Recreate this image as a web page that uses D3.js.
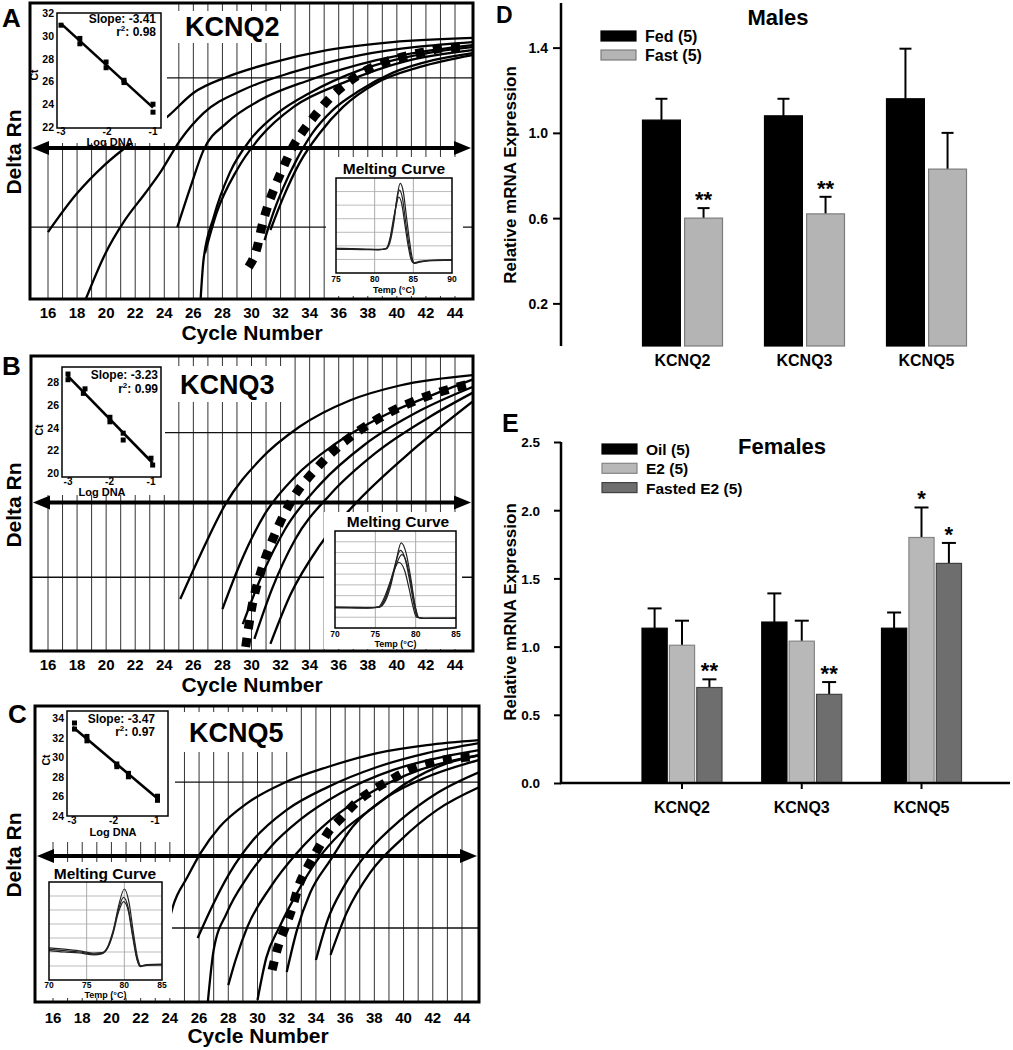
<!DOCTYPE html>
<html><head><meta charset="utf-8">
<script src="https://cdn.jsdelivr.net/npm/d3@7/dist/d3.min.js"></script>
<style>
html,body{margin:0;padding:0;background:#fff;}
text{font-family:"Liberation Sans",Arial,Helvetica,sans-serif;font-weight:bold;fill:#000;}
</style></head><body>
<svg id="fig" width="1013" height="1050" xmlns="http://www.w3.org/2000/svg"></svg>
<script>
// ================= DATA =================
const cycleTickLabels = [16,18,20,22,24,26,28,30,32,34,36,38,40,42,44];
const genes = ["KCNQ2","KCNQ3","KCNQ5"];

// ---- Panel A (KCNQ2) amplification curves: [cycle, deltaRn (arb.)]
const kcnq2Curves = [
 [[16.0,2.26],[17.9,3.51],[19.9,4.53],[22.0,5.37],[24.2,6.15],[26.0,6.96],[28.3,7.5],[31.3,7.97],[35.2,8.41],[39.7,8.68],[45.2,8.82]],
 [[18.6,0.0],[19.9,1.49],[21.3,2.67],[22.7,3.58],[23.7,4.26],[25.1,5.37],[26.7,6.28],[29.4,7.06],[32.9,7.67],[37.5,8.24],[45.2,8.68]],
 [[24.9,2.43],[25.8,3.78],[26.7,5.03],[28.3,5.95],[30.6,6.72],[34.0,7.4],[38.6,8.07],[45.2,8.58]],
 [[26.5,0.0],[26.7,1.32],[27.4,2.77],[28.5,4.26],[29.9,5.37],[31.8,6.28],[34.0,6.96],[37.5,7.74],[42.1,8.31],[45.2,8.51]],
 [[26.8,1.55],[27.6,2.91],[29.0,4.36],[30.6,5.47],[32.9,6.49],[36.3,7.3],[40.9,8.07],[45.2,8.41]],
 [[30.9,1.99],[31.5,2.91],[32.2,3.78],[33.1,4.7],[34.2,5.61],[35.6,6.39],[37.5,7.06],[39.7,7.64],[42.5,8.07],[45.2,8.31]],
 [[31.3,2.33],[32.2,3.45],[33.3,4.59],[34.7,5.61],[36.3,6.49],[38.6,7.3],[41.6,7.84],[45.2,8.24]]
];
const kcnq2Dotted = [[29.8,1.08],[30.4,1.76],[30.7,2.43],[31.1,3.11],[31.6,3.78],[32.2,4.46],[32.8,5.1],[33.5,5.64],[34.4,6.22],[35.4,6.79],[36.4,7.23],[37.6,7.64],[39.0,7.97],[40.4,8.18],[41.8,8.34],[43.2,8.48],[44.5,8.51]];
const kcnq2Thresholds = [7.47, 2.43];
const kcnq2Arrow = 5.1;
const kcnq2StdPoints = [[-3,30.93],[-2.59,29.77],[-2.59,29.3],[-2.02,27.7],[-2.02,27.2],[-1.63,26.1],[-1.63,25.9],[-1,24.0],[-1,23.3]];
const kcnq2StdFit = [[-3,31.07],[-1,23.7]];
const kcnq2StdTicks = [22,24,26,28,30,32];
const kcnq2Slope = "-3.41", kcnq2R2 = "0.98";
const kcnq2MeltTicks = [75,80,85,90];
const kcnq2Melt = [
 [[75,1.82],[77,1.8],[79,1.76],[80.5,1.74],[81.5,1.78],[82,2.3],[82.5,3.8],[82.9,5.6],[83.3,6.6],[83.7,6.0],[84.1,4.2],[84.5,2.4],[84.9,1.0],[85.2,0.7],[85.8,0.8],[87,0.9],[90,0.95]],
 [[75,1.78],[77,1.76],[79,1.73],[80.5,1.72],[81.5,1.8],[82,2.5],[82.5,4.0],[82.9,5.5],[83.2,6.1],[83.6,5.5],[84,3.8],[84.4,2.2],[84.8,1.0],[85.1,0.72],[85.8,0.82],[87,0.92],[90,0.96]],
 [[75,1.75],[77,1.74],[79,1.72],[80.5,1.7],[81.5,1.82],[82,2.6],[82.4,3.9],[82.8,5.0],[83.1,5.6],[83.5,5.1],[83.9,3.6],[84.3,2.1],[84.7,1.0],[85.0,0.75],[85.8,0.85],[87,0.93],[90,0.97]]
];

// ---- Panel B (KCNQ3)
const kcnq3Curves = [
 [[25.1,1.76],[26.5,3.28],[28.2,4.97],[30.6,6.49],[33.3,7.6],[36.8,8.5],[40.2,9.0],[45.2,9.35]],
 [[28.0,1.42],[29.2,2.94],[30.9,4.63],[33.0,5.91],[35.7,7.0],[39.2,8.0],[42.3,8.65],[45.2,9.2]],
 [[29.4,0.91],[30.6,2.43],[32.3,4.12],[34.7,5.64],[37.8,7.0],[41.6,8.15],[45.2,8.95]],
 [[30.2,0.41],[31.4,2.09],[33.0,3.78],[35.4,5.3],[38.5,6.7],[42.3,7.95],[45.2,8.75]],
 [[31.3,0.24],[32.7,1.93],[34.6,3.51],[37.1,4.97],[40.6,6.6],[45.2,8.45]]
];
const kcnq3Dotted = [[29.6,0.14],[30.0,1.42],[30.7,2.77],[31.6,3.95],[32.8,5.14],[34.4,6.15],[36.4,7.1],[38.8,7.9],[41.6,8.55],[45.0,9.05]];
const kcnq3Thresholds = [7.4, 2.5];
const kcnq3Arrow = 5.03;
const kcnq3StdPoints = [[-3,28.7],[-3,28.2],[-2.59,27.4],[-2.63,27.0],[-1.99,24.9],[-1.99,24.5],[-1.67,23.5],[-1.67,22.9],[-1,21.3],[-0.96,20.7]];
const kcnq3StdFit = [[-3.02,28.58],[-0.96,20.88]];
const kcnq3StdTicks = [20,22,24,26,28];
const kcnq3Slope = "-3.23", kcnq3R2 = "0.99";
const kcnq3MeltTicks = [70,75,80,85];
const kcnq3Melt = [
 [[70,1.95],[72,1.92],[74,1.9],[75.5,1.95],[76.3,2.6],[77,4.2],[77.6,6.3],[78.2,7.9],[78.8,7.0],[79.4,4.6],[79.9,2.2],[80.3,1.0],[81,0.9],[83,0.9],[85,0.92]],
 [[70,1.92],[72,1.9],[74,1.88],[75.5,1.95],[76.2,2.7],[76.9,4.3],[77.5,6.0],[78.1,7.2],[78.7,6.4],[79.3,4.2],[79.8,2.1],[80.2,1.0],[81,0.9],[83,0.9],[85,0.9]],
 [[70,1.9],[72,1.88],[74,1.86],[75.4,1.95],[76.1,2.8],[76.8,4.2],[77.4,5.5],[77.9,6.1],[78.6,5.4],[79.2,3.6],[79.7,1.9],[80.1,1.0],[81,0.9],[83,0.9],[85,0.9]],
 [[70,1.88],[72,1.87],[74,1.85],[75.5,1.93],[76.2,2.7],[76.9,4.2],[77.6,5.9],[78.3,6.8],[78.9,6.0],[79.5,3.8],[80.0,1.8],[80.4,0.95],[81,0.88],[83,0.9],[85,0.9]]
];

// ---- Panel C (KCNQ5)
const kcnq5Curves = [
 [[24.0,2.84],[24.2,3.21],[25.2,4.22],[26.1,5.03],[27.4,5.91],[29.3,6.72],[31.8,7.4],[34.8,7.94],[38.2,8.41],[41.6,8.68],[45.2,8.85]],
 [[25.9,2.16],[27.0,3.34],[28.1,4.36],[29.7,5.47],[32.0,6.49],[34.8,7.26],[38.2,7.94],[41.6,8.41],[45.2,8.75]],
 [[26.6,0.0],[27.0,1.76],[27.9,3.01],[29.3,4.22],[30.9,5.24],[32.9,6.15],[35.7,7.06],[39.3,7.84],[42.7,8.28],[45.2,8.51]],
 [[28.0,0.57],[28.5,1.42],[29.3,2.53],[30.9,3.89],[32.7,5.03],[35.0,6.15],[37.7,7.06],[41.1,7.84],[45.2,8.34]],
 [[30.0,0.07],[30.6,1.49],[31.5,2.53],[32.7,3.68],[34.1,4.8],[35.7,5.71],[37.7,6.49],[40.2,7.4],[43.0,8.07],[45.2,8.34]],
 [[32.0,1.01],[32.7,2.43],[33.6,3.68],[35.0,4.8],[36.5,5.91],[38.9,6.93],[41.6,7.6],[45.2,8.18]],
 [[34.0,1.42],[34.8,2.77],[35.9,3.89],[37.5,5.03],[39.8,6.15],[42.3,7.06],[45.2,7.77]],
 [[35.0,1.59],[36.1,3.01],[37.7,4.36],[39.8,5.47],[42.3,6.49],[45.2,7.26]]
];
const kcnq5Dotted = [[31.0,1.08],[31.4,1.86],[31.9,2.53],[32.4,3.21],[32.8,3.89],[33.4,4.53],[34.1,5.14],[34.8,5.71],[35.8,6.25],[36.8,6.76],[37.9,7.16],[39.1,7.5],[40.4,7.84],[41.8,8.07],[43.2,8.21],[44.7,8.28]];
const kcnq5Thresholds = [7.43, 2.5];
const kcnq5Arrow = 4.93;
const kcnq5StdPoints = [[-2.94,33.49],[-2.94,32.87],[-2.64,32.12],[-2.64,31.67],[-1.92,29.31],[-1.92,29.03],[-1.64,28.35],[-1.64,28.0],[-0.94,26.02],[-0.94,25.6]];
const kcnq5StdFit = [[-2.98,33.08],[-0.94,25.78]];
const kcnq5StdTicks = [24,26,28,30,32,34];
const kcnq5Slope = "-3.47", kcnq5R2 = "0.97";
const kcnq5MeltTicks = [70,75,80,85];
const kcnq5Melt = [
 [[70,2.2],[72,2.1],[74,2.0],[76,1.85],[77,1.9],[77.8,2.3],[78.5,3.4],[79.2,5.2],[80,6.5],[80.6,5.6],[81.2,3.4],[81.8,1.5],[82.2,1.0],[83,1.1],[85,1.13]],
 [[70,2.3],[72,2.2],[74,2.08],[76,1.92],[77,1.95],[77.8,2.4],[78.5,3.5],[79.2,5.0],[79.9,5.9],[80.5,5.2],[81.1,3.3],[81.7,1.5],[82.1,1.0],[83,1.08],[85,1.1]],
 [[70,2.1],[72,2.0],[74,1.93],[76,1.8],[77,1.86],[77.8,2.3],[78.5,3.3],[79.2,4.8],[79.9,5.6],[80.5,5.0],[81.1,3.1],[81.7,1.4],[82.1,0.95],[83,1.05],[85,1.08]]
];

// ---- Panel D (Males)
const maleSeries = ["Fed (5)","Fast (5)"];
const maleFed = [1.06,1.08,1.16];
const maleFedSEM = [0.10,0.08,0.235];
const maleFast = [0.60,0.62,0.83];
const maleFastSEM = [0.047,0.08,0.17];
const maleFastSig = ["**","**",""];
const maleYTicks = [0.2,0.6,1.0,1.4];

// ---- Panel E (Females)
const femaleSeries = ["Oil (5)","E2 (5)","Fasted E2 (5)"];
const femaleOil = [1.135,1.18,1.135];
const femaleOilSEM = [0.145,0.21,0.115];
const femaleE2 = [1.01,1.04,1.80];
const femaleE2SEM = [0.18,0.15,0.22];
const femaleFasted = [0.70,0.65,1.61];
const femaleFastedSEM = [0.06,0.09,0.15];
const femaleE2Sig = ["","","*"];
const femaleFastedSig = ["**","**","*"];
const femaleYTicks = [0.0,0.5,1.0,1.5,2.0,2.5];

// ================= DRAW =================
const svg = d3.select("#fig");
const defs = svg.append("defs");

function T(g, x, y, s, size, anchor, rot){
  const t = g.append("text").attr("x",x).attr("y",y).attr("font-size",size).attr("text-anchor",anchor||"start").text(s);
  if(rot) t.attr("transform",`rotate(${rot},${x},${y})`);
  return t;
}
function box(g,b){ return g.append("rect").attr("x",b[0]).attr("y",b[1]).attr("width",b[2]-b[0]).attr("height",b[3]-b[1]); }

const qPanels = [
 {letter:"A", gene:genes[0], curves:kcnq2Curves, dotted:kcnq2Dotted, th:kcnq2Thresholds, arrow:kcnq2Arrow,
  std:kcnq2StdPoints, fit:kcnq2StdFit, stdTicks:kcnq2StdTicks, slope:kcnq2Slope, r2:kcnq2R2,
  melt:kcnq2Melt, meltTicks:kcnq2MeltTicks, meltMax:7,
  L:{frame:[30,3,473,299], xr:[48,455], letter:[2,27], rnY:152, tickY:318, titleY:340, titleX:252,
     insetWhite:[30,3,167,143], stdBox:[57,13,161,128], stdX:[61,153], stdY:[127,13],
     stdText:[156,23,36], stdTickY:135, logDNA:[110,146], ct:[38,75],
     meltWhite:[326,157,463,296], meltBox:[336,178,452,273], meltTitle:[394,174], meltTickY:282, meltTempY:293,
     labelBox:[177,11,288,43], labelXY:[185,36]}},
 {letter:"B", gene:genes[1], curves:kcnq3Curves, dotted:kcnq3Dotted, th:kcnq3Thresholds, arrow:kcnq3Arrow,
  std:kcnq3StdPoints, fit:kcnq3StdFit, stdTicks:kcnq3StdTicks, slope:kcnq3Slope, r2:kcnq3R2,
  melt:kcnq3Melt, meltTicks:kcnq3MeltTicks, meltMax:9,
  L:{frame:[31,356,473,651], xr:[48,455], letter:[2,375], rnY:505, tickY:670, titleY:692, titleX:252,
     insetWhite:[31,356,165,495], stdBox:[62,367,161,477], stdX:[68,151], stdY:[473,382],
     stdText:[158,379,393], stdTickY:485, logDNA:[102,496], ct:[43,430],
     meltWhite:[324,512,462,649], meltBox:[335,531,456,628], meltTitle:[398,527], meltTickY:637, meltTempY:647,
     labelBox:[172,366,290,402], labelXY:[180,394]}},
 {letter:"C", gene:genes[2], curves:kcnq5Curves, dotted:kcnq5Dotted, th:kcnq5Thresholds, arrow:kcnq5Arrow,
  std:kcnq5StdPoints, fit:kcnq5StdFit, stdTicks:kcnq5StdTicks, slope:kcnq5Slope, r2:kcnq5R2,
  melt:kcnq5Melt, meltTicks:kcnq5MeltTicks, meltMax:7,
  L:{frame:[35,706,479,1002], xr:[53,462], letter:[8,723], rnY:855, tickY:1023, titleY:1043, titleX:258,
     insetWhite:[35,706,175,842], stdBox:[67,711,168,816], stdX:[72,155], stdY:[816,718],
     stdText:[155,723,736], stdTickY:824, logDNA:[113,836], ct:[50,760],
     meltWhite:[35,862,172,998], meltBox:[49,882,162,980], meltTitle:[105,879], meltTickY:988, meltTempY:998,
     labelBox:[180,712,290,752], labelXY:[189,742]}}
];

qPanels.forEach(P=>{
  const L = P.L, [fx0,fy0,fx1,fy1] = L.frame;
  const g = svg.append("g");
  const x = d3.scaleLinear().domain([16,44]).range(L.xr);
  const y = d3.scaleLinear().domain([0,10]).range([fy1,fy0]);
  const cid = "clip"+P.letter;
  defs.append("clipPath").attr("id",cid).append("rect").attr("x",fx0).attr("y",fy0).attr("width",fx1-fx0).attr("height",fy1-fy0);
  const inner = g.append("g").attr("clip-path",`url(#${cid})`);
  const cyc = d3.range(Math.ceil(x.invert(fx0)+0.3), Math.floor(x.invert(fx1)-0.3)+1);
  inner.selectAll("line.vg").data(cyc).join("line").attr("class","vg")
    .attr("x1",d=>x(d)).attr("x2",d=>x(d)).attr("y1",fy0).attr("y2",fy1)
    .attr("stroke","#333").attr("stroke-width",1);
  inner.selectAll("line.th").data(P.th).join("line").attr("class","th")
    .attr("x1",fx0).attr("x2",fx1).attr("y1",d=>y(d)).attr("y2",d=>y(d))
    .attr("stroke","#111").attr("stroke-width",1.3);
  const line = d3.line().x(d=>x(d[0])).y(d=>y(d[1])).curve(d3.curveMonotoneX);
  inner.selectAll("path.amp").data(P.curves).join("path").attr("class","amp")
    .attr("d",line).attr("fill","none").attr("stroke","#000").attr("stroke-width",2.3);
  inner.append("path").datum(P.dotted).attr("d",line).attr("fill","none")
    .attr("stroke","#000").attr("stroke-width",9).attr("stroke-dasharray","9,9");
  [L.insetWhite, L.meltWhite, L.labelBox].forEach(b=>box(inner,b).attr("fill","#fff"));
  // arrow
  const ay = y(P.arrow);
  inner.append("line").attr("x1",fx0+15).attr("x2",fx1-15).attr("y1",ay).attr("y2",ay).attr("stroke","#000").attr("stroke-width",4);
  inner.append("path").attr("d",`M${fx0+2},${ay}L${fx0+19},${ay-7}L${fx0+19},${ay+7}Z`).attr("fill","#000");
  inner.append("path").attr("d",`M${fx1-2},${ay}L${fx1-19},${ay-7}L${fx1-19},${ay+7}Z`).attr("fill","#000");
  // frame
  box(g,L.frame).attr("fill","none").attr("stroke","#000").attr("stroke-width",3);
  // gene label
  T(g, L.labelXY[0], L.labelXY[1], P.gene, 27);
  // axis ticks labels
  g.selectAll("text.ct").data(cycleTickLabels).join("text").attr("class","ct")
    .attr("x",d=>x(d)).attr("y",L.tickY).attr("text-anchor","middle").attr("font-size",15).text(d=>d);
  T(g, L.titleX, L.titleY, "Cycle Number", 21, "middle");
  T(g, 21, L.rnY, "Delta Rn", 21, "middle", -90);
  T(g, L.letter[0], L.letter[1], P.letter, 26);

  // ---- standard curve inset
  const sx = d3.scaleLinear().domain([-3,-1]).range(L.stdX);
  const sy = d3.scaleLinear().domain([P.stdTicks[0],P.stdTicks[P.stdTicks.length-1]]).range(L.stdY);
  box(g,L.stdBox).attr("fill","#fff").attr("stroke","#000").attr("stroke-width",1.5);
  g.append("line").attr("x1",sx(P.fit[0][0])).attr("y1",sy(P.fit[0][1])).attr("x2",sx(P.fit[1][0])).attr("y2",sy(P.fit[1][1]))
    .attr("stroke","#000").attr("stroke-width",2.6);
  g.selectAll("rect.sp").data(P.std).join("rect").attr("class","sp")
    .attr("x",d=>sx(d[0])-2.5).attr("y",d=>sy(d[1])-2.5).attr("width",5).attr("height",5).attr("fill","#000");
  g.selectAll("text.sy").data(P.stdTicks).join("text").attr("class","sy")
    .attr("x",L.stdBox[0]-3).attr("y",d=>sy(d)+4).attr("text-anchor","end").attr("font-size",10.5).text(d=>d);
  g.selectAll("text.sxl").data([-3,-2,-1]).join("text").attr("class","sxl")
    .attr("x",d=>sx(d)).attr("y",L.stdTickY).attr("text-anchor","middle").attr("font-size",10).text(d=>d);
  T(g, L.logDNA[0], L.logDNA[1], "Log DNA", 11, "middle");
  T(g, L.ct[0], L.ct[1], "Ct", 10.5, "middle", -90);
  T(g, L.stdText[0], L.stdText[1], "Slope: "+P.slope, 12, "end");
  const r2 = T(g, L.stdText[0], L.stdText[2], "", 12, "end");
  r2.append("tspan").text("r");
  r2.append("tspan").attr("font-size",8).attr("dy",-5).text("2");
  r2.append("tspan").attr("dy",5).text(": "+P.r2);

  // ---- melting inset
  const mb = L.meltBox;
  const mx = d3.scaleLinear().domain([P.meltTicks[0],P.meltTicks[P.meltTicks.length-1]]).range([mb[0],mb[2]]);
  const my = d3.scaleLinear().domain([0,P.meltMax]).range([mb[3],mb[1]]);
  box(g,mb).attr("fill","#fff");
  g.selectAll("line.mh").data(d3.range(1,P.meltMax)).join("line").attr("class","mh")
    .attr("x1",mb[0]).attr("x2",mb[2]).attr("y1",d=>my(d)).attr("y2",d=>my(d)).attr("stroke","#bbb").attr("stroke-width",1);
  g.selectAll("line.mv").data(P.meltTicks.slice(1,-1)).join("line").attr("class","mv")
    .attr("x1",d=>mx(d)).attr("x2",d=>mx(d)).attr("y1",mb[1]).attr("y2",mb[3]).attr("stroke","#aaa").attr("stroke-width",1);
  const mline = d3.line().x(d=>mx(d[0])).y(d=>my(d[1])).curve(d3.curveMonotoneX);
  g.selectAll("path.ml").data(P.melt).join("path").attr("class","ml")
    .attr("d",mline).attr("fill","none").attr("stroke","#222").attr("stroke-width",1.2);
  box(g,mb).attr("fill","none").attr("stroke","#000").attr("stroke-width",1.5);
  g.selectAll("text.mt").data(P.meltTicks).join("text").attr("class","mt")
    .attr("x",d=>mx(d)).attr("y",L.meltTickY).attr("text-anchor","middle").attr("font-size",8.5).text(d=>d);
  T(g, (mb[0]+mb[2])/2, L.meltTempY, "Temp (°C)", 9, "middle");
  T(g, L.meltTitle[0], L.meltTitle[1], "Melting Curve", 15.5, "middle");
});

// ================= BAR PANELS =================
function barPanel(o){
  const g = svg.append("g");
  const y = d3.scaleLinear().domain(o.yDomain).range(o.yRange);
  const x = d3.scalePoint().domain(genes).range(o.xRange);
  const xi = d3.scaleBand().domain(o.series).range([-40,40]).paddingInner(o.pad);
  o.values.forEach((vals,si)=>{
    const s = o.series[si];
    const sel = g.append("g");
    sel.selectAll("line.eb").data(vals).join("line").attr("class","eb")
      .attr("x1",(d,i)=>x(genes[i])+xi(s)+xi.bandwidth()/2).attr("x2",(d,i)=>x(genes[i])+xi(s)+xi.bandwidth()/2)
      .attr("y1",d=>y(d)).attr("y2",(d,i)=>y(d+o.sem[si][i])).attr("stroke","#000").attr("stroke-width",2);
    sel.selectAll("line.ec").data(vals).join("line").attr("class","ec")
      .attr("x1",(d,i)=>x(genes[i])+xi(s)+xi.bandwidth()/2-o.cap).attr("x2",(d,i)=>x(genes[i])+xi(s)+xi.bandwidth()/2+o.cap)
      .attr("y1",(d,i)=>y(d+o.sem[si][i])).attr("y2",(d,i)=>y(d+o.sem[si][i])).attr("stroke","#000").attr("stroke-width",2);
    sel.selectAll("rect").data(vals).join("rect")
      .attr("x",(d,i)=>x(genes[i])+xi(s)).attr("width",xi.bandwidth())
      .attr("y",d=>y(d)).attr("height",d=>y(0)-y(d))
      .attr("fill",o.fills[si]).attr("stroke",o.strokes[si]).attr("stroke-width",1.2);
    if(o.sig[si]) sel.selectAll("text.sig").data(vals).join("text").attr("class","sig")
      .attr("x",(d,i)=>x(genes[i])+xi(s)+xi.bandwidth()/2).attr("y",(d,i)=>y(d+o.sem[si][i])-1)
      .attr("text-anchor","middle").attr("font-size",22).text((d,i)=>o.sig[si][i]);
  });
  // y axis
  const ax = g.append("g").attr("transform",`translate(${o.axisX},0)`)
    .call(d3.axisLeft(y).tickValues(o.yTicks).tickFormat(d3.format(".1f")).tickSize(o.tickLen).tickSizeOuter(0).tickPadding(o.tickPad));
  ax.select(".domain").remove();
  ax.selectAll(".tick line").attr("stroke","#000").attr("stroke-width",2);
  ax.selectAll(".tick text").attr("font-size",o.tickFont).attr("font-family",null).attr("dy","0.36em");
  g.append("line").attr("x1",o.axisX).attr("x2",o.axisX).attr("y1",o.axisTop).attr("y2",o.axisBottom).attr("stroke","#000").attr("stroke-width",2.5);
  if(o.xAxis){
    g.append("line").attr("x1",o.axisX-1).attr("x2",1010).attr("y1",y(0)).attr("y2",y(0)).attr("stroke","#000").attr("stroke-width",2.5);
    g.selectAll("line.xt").data(genes).join("line").attr("class","xt")
      .attr("x1",d=>x(d)).attr("x2",d=>x(d)).attr("y1",y(0)).attr("y2",y(0)+6).attr("stroke","#000").attr("stroke-width",2);
  }
  g.selectAll("text.xl").data(genes).join("text").attr("class","xl")
    .attr("x",d=>x(d)).attr("y",o.xLabelY).attr("text-anchor","middle").attr("font-size",16).text(d=>d);
  T(g, o.yTitle[0], o.yTitle[1], "Relative mRNA Expression", 17, "middle", -90);
  T(g, o.title[0], o.title[1], o.titleText, 22, "middle");
  T(g, o.letter[0], o.letter[1], o.letterText, o.letterSize);
  // legend
  o.series.forEach((s,i)=>{
    g.append("rect").attr("x",o.leg[0]).attr("y",o.leg[1]+i*o.leg[2]).attr("width",35).attr("height",10)
      .attr("fill",o.fills[i]).attr("stroke",o.strokes[i]).attr("stroke-width",1.2);
    T(g, o.leg[0]+44, o.leg[1]+i*o.leg[2]+11, s, o.legFont);
  });
}

barPanel({series:maleSeries, values:[maleFed,maleFast], sem:[maleFedSEM,maleFastSEM], sig:[null,maleFastSig],
  yDomain:[0,1.6], yRange:[346,5], xRange:[682.5,926.5], pad:0.1, cap:6,
  fills:["#000","#b4b4b4"], strokes:["#000","#7c7c7c"],
  yTicks:maleYTicks, axisX:561, axisTop:3, axisBottom:346, tickLen:8, tickPad:5, tickFont:14,
  xAxis:false, xLabelY:366, yTitle:[516,175], title:[778,25], titleText:"Males", letter:[496,23], letterText:"D", letterSize:23,
  leg:[601,31,19], legFont:16});

barPanel({series:femaleSeries, values:[femaleOil,femaleE2,femaleFasted], sem:[femaleOilSEM,femaleE2SEM,femaleFastedSEM],
  sig:[null,femaleE2Sig,femaleFastedSig],
  yDomain:[0,2.5], yRange:[783,442], xRange:[682,921.5], pad:0.08, cap:7,
  fills:["#000","#b8b8b8","#6e6e6e"], strokes:["#000","#858585","#404040"],
  yTicks:femaleYTicks, axisX:561, axisTop:442, axisBottom:784, tickLen:7, tickPad:14, tickFont:13.5,
  xAxis:true, xLabelY:813, yTitle:[516,612], title:[782,454], titleText:"Females", letter:[502,432], letterText:"E", letterSize:25,
  leg:[602,444,19.3], legFont:15.5});
</script>
</body></html>
